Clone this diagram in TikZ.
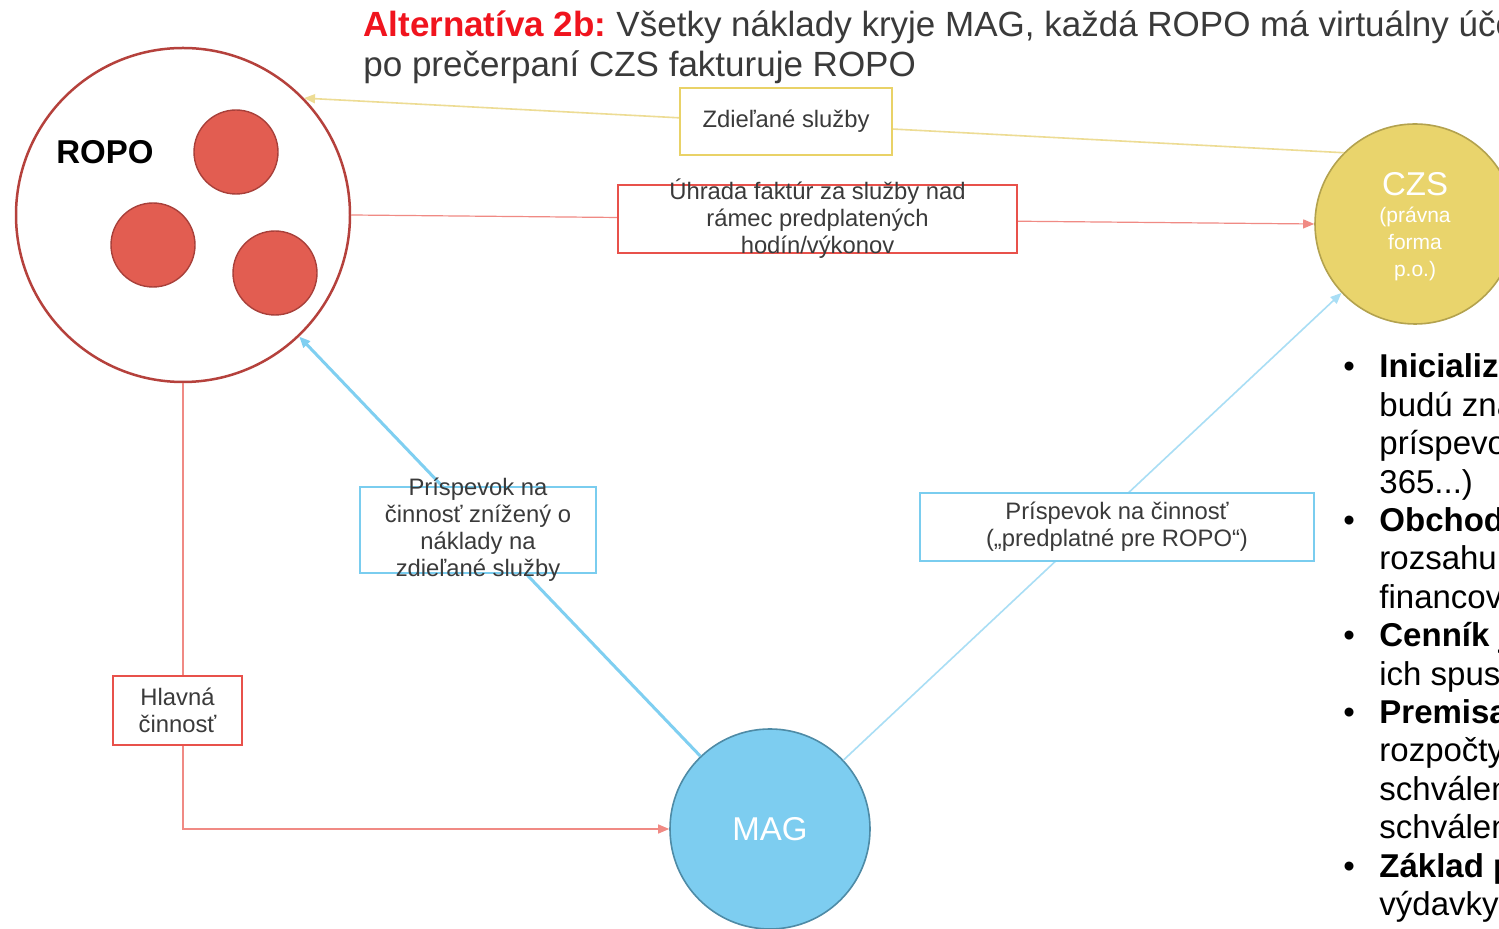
\documentclass[tikz,border=0pt]{standalone}
\usepackage{fontspec}
\setmainfont{Liberation Sans}
\usetikzlibrary{arrows.meta}
\definecolor{ropoborder}{HTML}{B5413C}
\definecolor{dotred}{HTML}{E25D51}
\definecolor{dotborder}{HTML}{A8403A}
\definecolor{czsfill}{HTML}{E9D46C}
\definecolor{czsborder}{HTML}{B3A24E}
\definecolor{magfill}{HTML}{7DCDF0}
\definecolor{magborder}{HTML}{4E8BA6}
\definecolor{redline}{HTML}{F08A84}
\definecolor{redbox}{HTML}{E8514B}
\definecolor{yelline}{HTML}{EDDC94}
\definecolor{yelbox}{HTML}{E9D267}
\definecolor{blueline}{HTML}{7FCFF1}
\definecolor{bluelight}{HTML}{A9DEF5}
\definecolor{bluebox}{HTML}{7ACDEF}
\definecolor{txtgray}{HTML}{3A3A3A}
\definecolor{titlered}{HTML}{F0141E}
\begin{document}
\begin{tikzpicture}[x=0.5pt,y=-0.5pt,
  box/.style={draw, fill=white, line width=1.2pt, inner sep=0pt},
  boxtext/.style={font=\fontsize{11.9}{13.5}\selectfont, text=txtgray, align=center, inner sep=0pt},
  bigcirc/.style={circle, draw, inner sep=0pt},
  dot/.style={circle, draw=dotborder, fill=dotred, line width=0.7pt, minimum size=42pt, inner sep=0pt},
  whitetxt/.style={text=white, inner sep=0pt, align=center},
  tip/.style={-{Triangle[length=5.5pt,width=4.5pt]}}
]
\clip (0,0) rectangle (1499,929);
\fill[white] (0,0) rectangle (1499,929);

% title
\node[anchor=base west, inner sep=0pt, font=\fontsize{17.5}{20}\selectfont, text=txtgray] (t1) at (363,37)
  {\textcolor{titlered}{\bfseries Alternatíva 2b:}\hspace{-1.5pt} Všetky náklady kryje MAG, každá ROPO má virtuálny účet,};
\node[anchor=base west, inner sep=0pt, font=\fontsize{17.5}{20}\selectfont, text=txtgray] (t2) at (363,77)
  {po prečerpaní CZS fakturuje ROPO};

% main circles
\node[bigcirc, draw=ropoborder, line width=1.25pt, fill=white, minimum size=167pt] (ropo) at (183,215) {};
\node[dot] (d1) at (236,152) {};
\node[dot] (d2) at (153,245) {};
\node[dot] (d3) at (275,273) {};
\node[inner sep=0pt, font=\fontsize{16.5}{18}\selectfont\bfseries] (ropolbl) at (105,152) {ROPO};

\node[bigcirc, draw=czsborder, line width=0.8pt, fill=czsfill, minimum size=100pt,
  label={[whitetxt, font=\fontsize{16.5}{18}\selectfont, yshift=20pt]center:CZS},
  label={[whitetxt, font=\fontsize{10.5}{13.5}\selectfont, yshift=-10pt]center:(právna\\forma\\p.o.)}] (czs) at (1415,224) {};
\node[bigcirc, draw=magborder, line width=0.8pt, fill=magfill, minimum size=100pt,
  label={[whitetxt, font=\fontsize{16.5}{18}\selectfont]center:MAG}] (mag) at (770,829) {};

% connectors
\draw[yelline, line width=0.8pt, tip] (czs.135) -- (ropo.44);
\draw[redline, line width=0.6pt, tip] (ropo.east) -- (czs.west);
\draw[blueline, line width=1.5pt, tip] (mag) -- (ropo);
\draw[bluelight, line width=0.8pt, tip] (mag) -- (czs);
\draw[redline, line width=0.6pt, tip] (ropo.south) |- (mag.west);

% labels on connectors
\node[box, draw=yelbox, minimum width=106pt, minimum height=33.5pt,
  label={[boxtext]center:Zdieľané služby}] (zdiel) at (786,121.5) {};
\node[box, draw=redbox, minimum width=199.5pt, minimum height=34pt,
  label={[boxtext]center:Úhrada faktúr za služby nad\\rámec predplatených\\hodín/výkonov}] (uhrada) at (817.5,219) {};
\node[box, draw=bluebox, minimum width=118pt, minimum height=43pt,
  label={[boxtext]center:Príspevok na\\činnosť znížený o\\náklady na\\zdieľané služby}] (prisp1) at (478,530) {};
\node[box, draw=bluebox, minimum width=197pt, minimum height=34pt,
  label={[boxtext]center:Príspevok na činnosť\\(„predplatné pre ROPO“)}] (prisp2) at (1117,527) {};
\node[box, draw=redbox, minimum width=64.5pt, minimum height=34.5pt,
  label={[boxtext]center:Hlavná\\činnosť}] (hlavna) at (177.5,710.5) {};

% right bullet list
\node[anchor=base west, inner sep=0pt, font=\fontsize{16.5}{19.2}\selectfont, text=black] (bullets) at (1343,378)
  {\begin{tabular}[t]{@{}p{11pt}@{\hspace{7pt}}l@{}}
  • & \textbf{Inicializácia} \\
    & budú známe \\
    & príspevok \\
    & 365...) \\
  • & \textbf{Obchodný} \\
    & rozsahu \\
    & financovania \\
  • & \textbf{Cenník je} \\
    & ich spustenia \\
  • & \textbf{Premisa} \\
    & rozpočty \\
    & schválené \\
    & schválené \\
  • & \textbf{Základ pre} \\
    & výdavky
  \end{tabular}};
\end{tikzpicture}
\end{document}
